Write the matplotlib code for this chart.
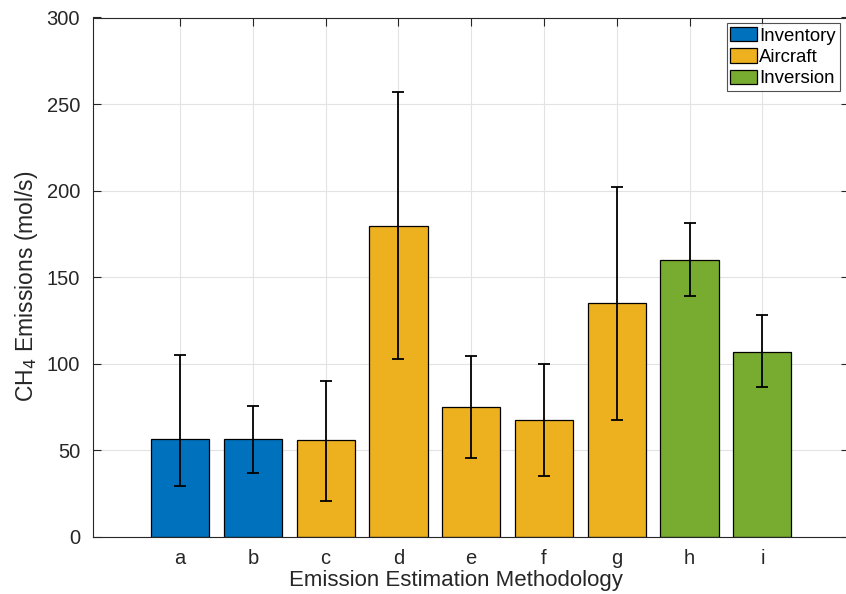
import matplotlib
matplotlib.use('Agg')
import matplotlib.pyplot as plt
from matplotlib.patches import Patch

plt.rcParams['font.family'] = ['Liberation Sans', 'DejaVu Sans']

# data
labels = ['a', 'b', 'c', 'd', 'e', 'f', 'g', 'h', 'i']
values = [56.3, 56.3, 55.7, 179.7, 74.9, 67.2, 134.9, 159.9, 106.7]
err_hi = [105.0, 75.5, 90.0, 257.1, 104.2, 99.6, 202.2, 181.1, 127.9]
err_lo = [29.5, 36.8, 20.8, 102.7, 45.6, 34.9, 67.2, 138.9, 86.5]
groups = ['Inventory', 'Inventory', 'Aircraft', 'Aircraft', 'Aircraft',
          'Aircraft', 'Aircraft', 'Inversion', 'Inversion']
group_names = ['Inventory', 'Aircraft', 'Inversion']
group_colors = {'Inventory': '#0072BD', 'Aircraft': '#EDB120', 'Inversion': '#77AC30'}

W, H = 846, 594
fig = plt.figure(figsize=(W / 100, H / 100), dpi=100)
ax = fig.add_axes([92.7 / W, (H - 536.7) / H, (849 - 92.7) / W, 519.2 / H])

x = list(range(1, len(labels) + 1))
colors = [group_colors[g] for g in groups]
ax.bar(x, values, width=0.8, color=colors, edgecolor='black', linewidth=0.9, zorder=2)

yerr = [[v - lo for v, lo in zip(values, err_lo)],
        [hi - v for v, hi in zip(values, err_hi)]]
ax.errorbar(x, values, yerr=yerr, fmt='none', ecolor='black', elinewidth=1.3,
            capsize=4.3, capthick=1.3, zorder=3)

ax.set_xlim(-0.2, 10.19)
ax.set_ylim(0, 300)
ax.set_xticks(x)
ax.set_xticklabels(labels)
ax.set_yticks(range(0, 301, 50))

dark = '#262626'
ax.grid(True, color='#e3e3e3', linewidth=0.8, zorder=0)
ax.set_axisbelow(True)
ax.tick_params(direction='in', length=5.5, width=0.8, colors=dark,
               labelsize=14.5, top=True, right=True, pad=9)
for s in ax.spines.values():
    s.set_color(dark)
    s.set_linewidth(0.8)

ax.set_xlabel('Emission Estimation Methodology', fontsize=16, color=dark, labelpad=1)
ax.set_ylabel('CH$_4$ Emissions (mol/s)', fontsize=16.5, color=dark, labelpad=5)
# the reference figure is cropped on the right, labels sit off-centre
ax.xaxis.label.set_x(0.4797)
ax.yaxis.label.set_y(0.482)

handles = [Patch(facecolor=group_colors[g], edgecolor='black', linewidth=0.9) for g in group_names]
leg = ax.legend(handles, group_names, loc='upper left',
                bbox_to_anchor=((726.7 - 92.7) / (849 - 92.7), 1 - (23.3 - 17.5) / 519.2),
                fontsize=13.4, frameon=True, fancybox=False, borderpad=0.2,
                handlelength=1.42, handleheight=0.8, handletextpad=0.14,
                labelspacing=0.2, borderaxespad=0)
leg.get_frame().set_edgecolor(dark)
leg.get_frame().set_linewidth(0.8)

fig.savefig('out.png', dpi=100)
